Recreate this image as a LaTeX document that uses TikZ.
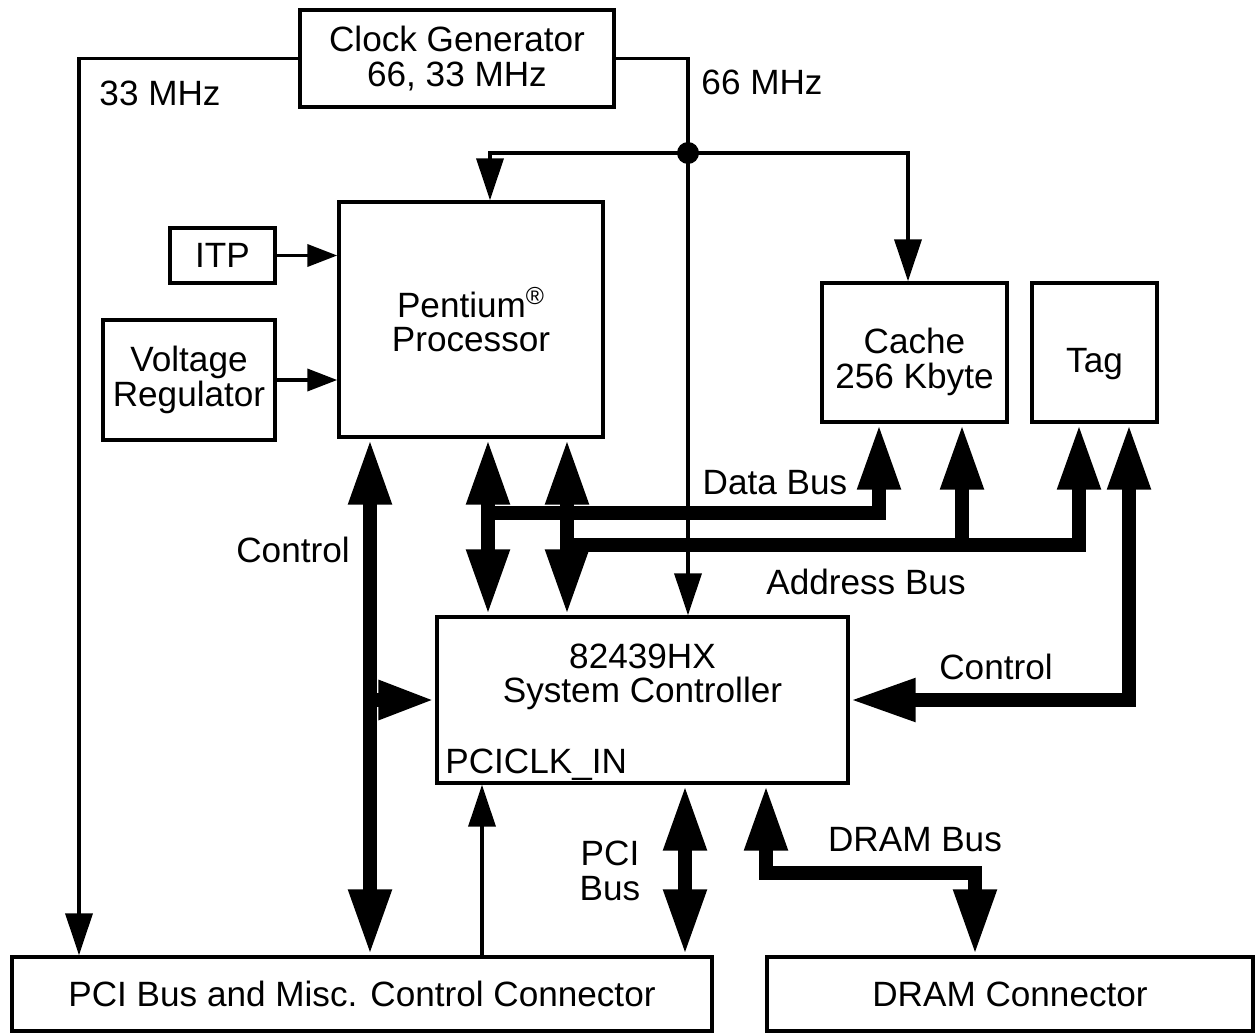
\documentclass[tikz,border=0pt]{standalone}
\usepackage{fontspec}
\setmainfont{Liberation Sans}
\usetikzlibrary{arrows.meta,calc}
\tikzset{
  tipthinv/.tip={Triangle[length=0.84cm,width=0.54cm]},
  tipthinh/.tip={Triangle[length=0.6cm,width=0.44cm]},
  tipbus/.tip={Triangle[length=1.32cm,width=0.8cm]},
  tipbranch/.tip={Triangle[length=1.14cm,width=0.72cm]},
}
\begin{document}
\begin{tikzpicture}[x=0.02cm,y=-0.02cm,
  every node/.style={font=\fontsize{20}{19.5}\selectfont},
  box/.style={draw, line width=0.07cm, inner sep=0pt, align=center},
  thinln/.style={line width=0.075cm},
  bus/.style={line width=0.28cm},
  lbl/.style={inner sep=0pt, align=center}
]
\useasboundingbox (0,0) rectangle (1257,1034);

% boxes
\node[box, minimum width=6.28cm, minimum height=1.94cm] (clk) at (457,58.5) {Clock Generator\\66, 33 MHz};
\node[box, minimum width=5.28cm, minimum height=4.7cm] (cpu) at (471,319.5) {Pentium\textsuperscript{®}\\Processor};
\node[box, minimum width=2.1cm, minimum height=1.1cm] (itp) at (222.5,255.5) {ITP};
\node[box, minimum width=3.44cm, minimum height=2.4cm] (vr) at (189,380) {Voltage\\Regulator};
\node[box, minimum width=3.7cm, minimum height=2.78cm] (cache) at (914.5,352.5) {};
\node[lbl] (cachetxt) at (914.5,362) {Cache\\256 Kbyte};
\node[box, minimum width=2.5cm, minimum height=2.78cm] (tag) at (1094.5,352.5) {};
\node[lbl] (tagtxt) at (1094.5,364) {Tag};
\node[box, minimum width=8.22cm, minimum height=3.32cm] (sc) at (642.5,700) {};
\node[lbl] (sctxt) at (642.5,677) {82439HX\\System Controller};
\node[lbl, anchor=west] (pciclk) at (445,765) {PCICLK\_IN};
\node[box, minimum width=14.0cm, minimum height=1.48cm] (pci) at (362,994) {PCI Bus and Misc. Control Connector};
\node[box, minimum width=9.72cm, minimum height=1.48cm] (dram) at (1010,994) {DRAM Connector};

% junction
\node[circle, fill, inner sep=0pt, minimum size=0.44cm] (jn) at (688,153) {};

% x positions
\coordinate (x33) at (79,0);
\coordinate (xc) at (370,0);
\coordinate (xbr) at (376,0);
\coordinate (xpk) at (482,0);
\coordinate (xd) at (488,0);
\coordinate (xcpuclk) at (490,0);
\coordinate (xa) at (567,0);
\coordinate (xpci) at (685,0);
\coordinate (xdr) at (766,0);
\coordinate (xcd) at (879,0);
\coordinate (xcc) at (908,0);
\coordinate (xca) at (962,0);
\coordinate (xta) at (1079,0);
\coordinate (xtc) at (1129,0);
\coordinate (dbl) at (488,513);
\coordinate (abl) at (567,545);
\coordinate (drc) at (975,873);

% clocks
\draw[thinln, -tipthinv] (clk.west) -| (pci.north -| x33);
\draw[thinln] (clk.east) -| (jn.center);
\draw[thinln, -tipthinv] (jn.center) -- (sc.north -| jn);
\draw[thinln, -tipthinv] (jn.center) -| (cpu.north -| xcpuclk);
\draw[thinln, -tipthinv] (jn.center) -| (cache.north -| xcc);
\draw[thinln, -tipthinv] (pci.north -| xpk) -- (sc.south -| xpk);
\draw[thinln, -tipthinh] (itp.east) -- (cpu.west |- itp.east);
\draw[thinln, -tipthinh] (vr.east) -- (cpu.west |- vr.east);

% buses
\draw[bus, tipbus-tipbus] (cpu.south -| xc) -- (pci.north -| xc);
\draw[bus, -tipbranch] (sc.west -| xbr) -- (sc.west);
\draw[bus, tipbus-tipbus] (cpu.south -| xd) -- (sc.north -| xd);
\draw[bus, tipbus-tipbus] (cpu.south -| xa) -- (sc.north -| xa);
\draw[bus, -tipbus] (dbl) -| (cache.south -| xcd);
\draw[bus, -tipbus] (abl) -| (tag.south -| xta);
\draw[bus, -tipbus] (abl -| xca) -- (cache.south -| xca);
\draw[bus, tipbus-tipbus] (sc.east) -| (tag.south -| xtc);
\draw[bus, tipbus-tipbus] (sc.south -| xpci) -- (pci.north -| xpci);
\draw[bus, tipbus-tipbus] (sc.south -| xdr) |- (drc) -- (dram.north -| drc);

% labels
\node[lbl] (l33) at (160,93) {33 MHz};
\node[lbl] (l66) at (762,82) {66 MHz};
\node[lbl] (lctl) at (293,550) {Control};
\node[lbl] (ldata) at (775,483) {Data Bus};
\node[lbl] (laddr) at (866,582) {Address Bus};
\node[lbl] (lctr) at (996,667) {Control};
\node[lbl] (lpci) at (610,871) {PCI\\Bus};
\node[lbl] (ldram) at (915,840) {DRAM Bus};
\end{tikzpicture}
\end{document}
